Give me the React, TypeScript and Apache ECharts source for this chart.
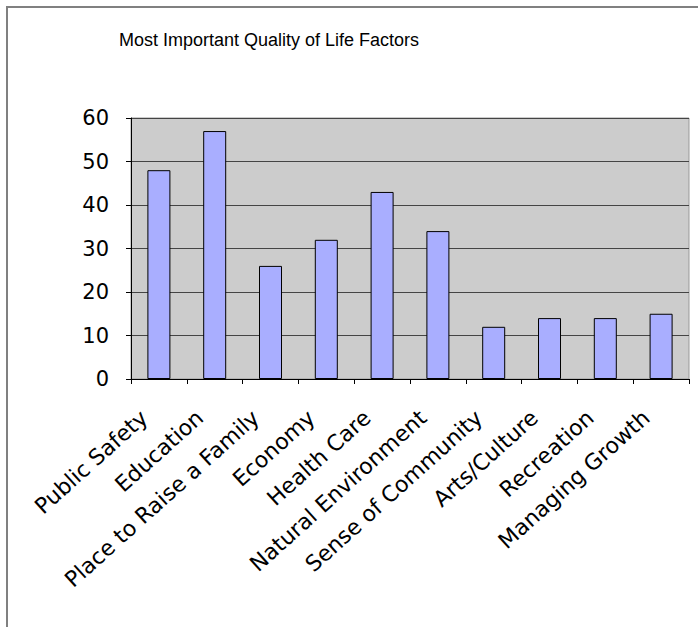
import React, { useEffect, useRef } from "react";
import * as echarts from "echarts";

const chartTitle = "Most Important Quality of Life Factors";
const categories = [
  "Public Safety",
  "Education",
  "Place to Raise a Family",
  "Economy",
  "Health Care",
  "Natural Environment",
  "Sense of Community",
  "Arts/Culture",
  "Recreation",
  "Managing Growth",
];
const values = [48, 57, 26, 32, 43, 34, 12, 14, 14, 15];
const yMin = 0;
const yMax = 60;
const yInterval = 10;

export default function App() {
  const ref = useRef<HTMLDivElement>(null);
  useEffect(() => {
    if (!ref.current) return;
    const chart = echarts.init(ref.current, null, { renderer: "svg" });
    chart.setOption({
      animation: false,
      backgroundColor: "#ffffff",
      graphic: [
        {
          type: "rect",
          shape: { x: 7, y: 7, width: 760, height: 700 },
          style: { fill: "none", stroke: "#808080", lineWidth: 2 },
          silent: true,
        },
        {
          type: "text",
          x: 269,
          y: 40,
          style: {
            text: chartTitle,
            fontSize: 18,
            fontFamily: "Liberation Sans",
            fill: "#000",
            align: "center",
            verticalAlign: "middle",
          },
        },
      ],
      grid: {
        left: 131,
        top: 118,
        right: 9,
        bottom: 248,
        show: true,
        backgroundColor: "#cccccc",
        borderColor: "#999999",
        borderWidth: 1,
      },
      xAxis: {
        type: "category",
        data: categories,
        boundaryGap: true,
        axisLine: { show: true, lineStyle: { color: "#000", width: 1 } },
        axisTick: { show: true, length: 5, alignWithLabel: false, lineStyle: { color: "#000" } },
        axisLabel: {
          interval: 0,
          rotate: 42,
          margin: 22,
          padding: [0, 20, 0, 0],
          fontSize: 22,
          fontFamily: "DejaVu Sans",
          color: "#000",
        },
        splitLine: { show: false },
      },
      yAxis: {
        type: "value",
        min: yMin,
        max: yMax,
        interval: yInterval,
        axisLine: { show: true, lineStyle: { color: "#000", width: 1 } },
        axisTick: { show: true, length: 5, lineStyle: { color: "#000" } },
        axisLabel: {
          margin: 22,
          fontSize: 21,
          fontFamily: "DejaVu Sans",
          color: "#000",
        },
        splitLine: { show: true, lineStyle: { color: "#444", width: 1 } },
      },
      series: [
        {
          type: "bar",
          data: values,
          barWidth: 23,
          itemStyle: { color: "#a9aeff", borderColor: "#000", borderWidth: 1 },
        },
      ],
    });
    return () => chart.dispose();
  }, []);
  return (
    <div
      ref={ref}
      style={{ position: "absolute", left: 0, top: 0, width: 698, height: 627 }}
    />
  );
}
